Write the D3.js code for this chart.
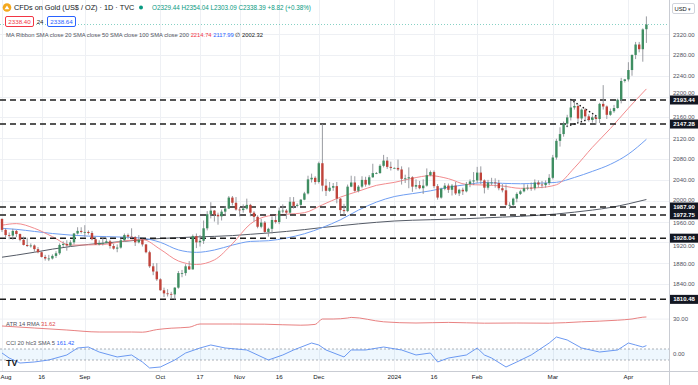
<!DOCTYPE html>
<html><head><meta charset="utf-8">
<script src="https://cdn.jsdelivr.net/npm/d3@7"></script>
<style>
html,body{margin:0;padding:0;background:#fff;}
svg{display:block;font-family:"Liberation Sans",Arial,sans-serif;}
</style></head><body>
<svg id="c" width="698" height="385"></svg>
<script>
// ---------- DATA ----------
const firstDay = "2023-08-01", lastDay = "2024-04-08";
const openP = [1965,1944,1934,1933,1942,1936,1925,1915,1913,1914,1907,1901,1892,1889,1889,1894,1899,1915,1917,1914,1920,1937,1942,
1940,1940,1938,1926,1916,1919,1919,1922,1913,1908,1910,1924,1934,1931,1930,1920,1925,1916,1901,1874,1864,
1849,1828,1822,1821,1820,1833,1861,1861,1874,1868,1932,1920,1923,1947,1974,1981,1973,1970,1979,1985,2006,1996,
1983,1982,1985,1992,1977,1969,1950,1958,1940,1946,1963,1959,1981,1981,1977,1998,1990,1992,2002,2014,2041,2044,
2036,2072,2029,2019,2025,2028,2004,1982,1980,2027,2035,2019,2027,2040,2031,2045,2053,2053,2067,2077,2065,
2063,2063,2060,2042,2043,2045,2027,2030,2024,2029,2049,2055,2028,2006,2023,2029,2021,2029,2014,2021,2018,2032,2037,
2039,2054,2039,2025,2035,2035,2034,2024,2020,1992,1992,2004,2013,2018,2024,2025,2024,2035,2031,2030,2034,
2044,2083,2115,2128,2148,2160,2179,2182,2158,2175,2162,2155,2160,2157,2186,2181,2165,2172,2178,2194,2230,
2233,2251,2280,2300,2291,2329.44];
const highP = [1966,1947,1939,1946,1944,1937,1931,1929,1918,1916,1911,1903,1896,1896,1897,1903,1918,1922,1924,1924,1938,1949,1949,
1953,1943,1942,1930,1924,1929,1929,1925,1917,1916,1928,1937,1937,1947,1932,1934,1927,1917,1904,1880,1880,
1851,1833,1830,1825,1834,1865,1867,1878,1884,1935,1937,1934,1962,1980,1997,1982,1977,1983,1990,2009,2009,2007,
1988,1993,2004,1994,1980,1972,1965,1961,1948,1970,1972,1987,1993,1984,2007,2007,1995,2003,2017,2048,2052,2047,
2075,2147,2042,2036,2034,2036,2005,1994,2031,2048,2047,2030,2047,2046,2049,2071,2055,2070,2088,2084,2075,
2064,2079,2066,2050,2064,2047,2041,2038,2041,2062,2058,2058,2032,2025,2034,2033,2032,2036,2023,2025,2036,2041,2055,
2065,2066,2041,2040,2044,2043,2040,2032,2031,1997,2006,2016,2021,2032,2031,2035,2041,2039,2038,2039,2051,
2088,2119,2141,2152,2165,2194,2189,2185,2177,2178,2166,2164,2163,2188,2222,2183,2177,2184,2196,2236,2234,
2266,2281,2305,2305,2331,2354.04];
const lowP = [1940,1929,1926,1925,1930,1922,1914,1911,1910,1902,1899,1891,1885,1884,1887,1890,1896,1911,1904,1913,1916,1935,1937,
1931,1935,1924,1915,1914,1914,1918,1908,1906,1901,1908,1922,1926,1928,1913,1918,1912,1899,1871,1857,1846,
1827,1815,1816,1813,1810,1831,1853,1856,1867,1868,1909,1912,1917,1943,1966,1960,1954,1962,1971,1984,1991,1981,
1970,1977,1983,1970,1960,1947,1947,1936,1931,1937,1956,1955,1976,1965,1975,1985,1987,1990,2001,2012,2035,2031,
2033,2018,2009,2017,2019,1995,1975,1973,1978,2026,2017,2016,2024,2027,2029,2044,2051,2052,2064,2061,2058,
2062,2057,2031,2034,2024,2017,2022,2022,2013,2027,2047,2024,2002,2004,2020,2015,2010,2011,2009,2011,2016,2026,2030,
2034,2032,2014,2021,2030,2025,2020,2016,1990,1984,1989,1997,2011,2016,2020,2019,2020,2025,2024,2025,2030,
2041,2079,2104,2123,2141,2154,2175,2150,2154,2155,2152,2150,2146,2149,2175,2157,2163,2169,2177,2187,2227,
2229,2240,2272,2285,2267,2303.09];
const closeP = [1944,1934,1933,1942,1936,1925,1915,1913,1914,1907,1901,1892,1889,1889,1894,1899,1915,1917,1914,1920,1937,1942,1940,
1940,1938,1926,1916,1919,1919,1922,1913,1908,1910,1924,1934,1931,1930,1920,1925,1916,1901,1874,1864,1849,
1828,1822,1821,1820,1833,1861,1861,1874,1868,1932,1920,1923,1947,1974,1981,1973,1970,1979,1985,2006,1996,1983,
1982,1985,1992,1977,1969,1950,1958,1940,1946,1963,1959,1981,1981,1977,1998,1990,1992,2002,2014,2041,2044,2036,
2072,2029,2019,2025,2028,2004,1982,1980,2027,2035,2019,2027,2040,2031,2045,2053,2053,2067,2077,2065,2063,
2063,2060,2042,2043,2045,2027,2030,2024,2029,2049,2055,2028,2006,2023,2029,2021,2029,2014,2021,2018,2032,2037,2039,
2054,2039,2025,2035,2035,2034,2024,2020,1992,1992,2004,2013,2018,2024,2025,2024,2035,2031,2030,2034,2044,
2083,2115,2128,2148,2160,2179,2182,2158,2175,2162,2155,2160,2157,2186,2181,2165,2172,2178,2194,2230,2233,
2251,2280,2300,2291,2329,2338.39];

const maDates = ["2023-08-01","2023-08-07","2023-08-14","2023-08-21","2023-08-28","2023-09-04","2023-09-11","2023-09-18","2023-09-25",
"2023-10-02","2023-10-09","2023-10-16","2023-10-23","2023-10-30","2023-11-06","2023-11-13","2023-11-20","2023-11-27",
"2023-12-04","2023-12-11","2023-12-18","2023-12-25","2024-01-01","2024-01-08","2024-01-15","2024-01-22","2024-01-29",
"2024-02-05","2024-02-12","2024-02-19","2024-02-26","2024-03-04","2024-03-11","2024-03-18","2024-03-25","2024-04-01","2024-04-08"];
const sma20 = [1953,1956,1947,1931,1914.7,1915.1,1916.5,1922.7,1925.5,1906.5,1884.2,1877.5,1886.3,1917.3,1955.4,1970.8,1974.0,1977.0,
1992.1,2006.9,2018.2,2029.5,2035.2,2043.1,2048.1,2042.3,2031.3,2030.1,2028.2,2023.8,2025.0,2030.6,2063.1,2102.6,2138.7,2177.7,2214.74];
const sma50 = [1947,1945,1941,1937,1934,1932,1931,1930,1928,1920,1905.5,1900.8,1905.3,1914.7,1921.8,1923.1,1928.3,1936.5,
1948.5,1963.3,1981.9,1997.3,2008.0,2013.6,2019.0,2025.9,2030.9,2034.9,2033.4,2032.6,2033.6,2035.3,2044.6,2056.4,2069.9,2089.5,2117.99];
const sma200 = [1891.5,1895.5,1901,1907,1912,1916,1919,1922,1925,1927.5,1929,1930.5,1931.5,1933,1935.5,1938,1941,1944.5,
1948.5,1952,1955.5,1958.5,1961,1962.5,1963.5,1964.5,1965.5,1967,1968.5,1970,1972,1974.5,1978,1982,1987,1994,2002.32];

const atrDates = ["2023-08-01","2023-08-14","2023-08-25","2023-09-07","2023-09-20","2023-09-25","2023-09-29","2023-10-05","2023-10-12",
"2023-10-17","2023-10-30","2023-11-10","2023-11-24","2023-11-30","2023-12-04","2023-12-07","2023-12-13","2023-12-14","2023-12-27",
"2024-01-09","2024-01-22","2024-02-05","2024-02-16","2024-02-29","2024-03-13","2024-03-27","2024-04-02","2024-04-05","2024-04-08"];
const atrValues = [22.6,20.6,18.6,16.6,16.6,16.4,19.0,20.4,21.4,24.6,24.6,24.4,23.4,24.2,29.6,29.6,30.6,31.2,26.8,25.6,26.2,25.4,25.6,25.4,26.8,28.4,29.6,31.4,31.62];

const cciDates = ["2023-08-01","2023-08-03","2023-08-08","2023-08-14","2023-08-18","2023-08-25","2023-08-30","2023-09-04","2023-09-07",
"2023-09-14","2023-09-20","2023-09-25","2023-09-27","2023-10-02","2023-10-06","2023-10-11","2023-10-17","2023-10-20","2023-10-26",
"2023-11-03","2023-11-13","2023-11-17","2023-11-22","2023-11-29","2023-12-01","2023-12-05","2023-12-12","2023-12-14","2023-12-20",
"2023-12-27","2024-01-03","2024-01-09","2024-01-15","2024-01-17","2024-01-22","2024-01-29","2024-02-01","2024-02-05","2024-02-07",
"2024-02-13","2024-02-16","2024-02-22","2024-02-29","2024-03-04","2024-03-07","2024-03-13","2024-03-20","2024-03-27","2024-04-01",
"2024-04-03","2024-04-05","2024-04-08"];
const cciValues = [27,-64,-155,-136,-100,-9,118,136,45,-45,-9,-136,-245,-227,-100,27,118,173,118,82,-100,-9,82,209,173,82,-45,82,82,
136,82,-9,27,-136,-64,-9,118,-9,-64,-227,-136,-9,209,318,264,118,45,82,209,173,136,161.42];

const levels = [2193.44, 2147.28, 1987.90, 1972.75, 1928.04, 1810.48];
const priceTicks = [1840,1880,1920,1960,2000,2040,2080,2120,2160,2200,2240,2280,2320];
const timeTickDates = ["2023-08-01","2023-08-16","2023-09-01","2023-10-02","2023-10-17","2023-11-01","2023-11-16","2023-12-01",
"2024-01-01","2024-01-16","2024-02-01","2024-03-01","2024-04-01"];
const timeTickLabels = ["Aug","16","Sep","Oct","17","Nov","16","Dec","2024","16","Feb","Mar","Apr"];
const pennantUpper = [["2024-03-08",2194],["2024-03-19",2163]];
const pennantLower = [["2024-03-07",2143],["2024-03-19",2161]];

// ---------- SCALES ----------
const parse = d3.utcParse("%Y-%m-%d"), fmt = d3.utcFormat("%Y-%m-%d");
const days = d3.utcDays(parse(firstDay), d3.utcDay.offset(parse(lastDay), 1))
  .filter(d => d.getUTCDay() % 6 !== 0).map(fmt);
const bars = days.map((d, i) => ({d, o: openP[i], h: highP[i], l: lowP[i], c: closeP[i]}));

const plotRight = 669;
const x = d3.scaleBand().domain(days).range([0.2, 0.2 + 3.6 * days.length]).padding(0);
const cx = d => x(d) + x.bandwidth() / 2;
const y = d3.scaleLinear().domain([1800, 2380]).range([304.83, 2.88]);
const yAtr = d3.scaleLinear().domain([12, 43]).range([336.6, 305.6]);
const yCci = d3.scaleLinear().domain([-300, 350]).range([371, 335.25]);

const svg = d3.select("#c");
svg.append("rect").attr("width", 698).attr("height", 385).attr("fill", "#fff");

// grid
const grid = svg.append("g");
grid.selectAll("line.h").data(priceTicks).join("line")
  .attr("x1", 0).attr("x2", plotRight).attr("y1", d => Math.round(y(d)) + 0.5).attr("y2", d => Math.round(y(d)) + 0.5)
  .attr("stroke", "#eef0f4");
grid.selectAll("line.v").data(timeTickDates).join("line")
  .attr("x1", d => Math.round(cx(d)) + 0.5).attr("x2", d => Math.round(cx(d)) + 0.5).attr("y1", 0).attr("y2", 371)
  .attr("stroke", "#eef0f4");
grid.append("line").attr("x1", 0).attr("x2", plotRight).attr("y1", yAtr(30) + 0.5).attr("y2", yAtr(30) + 0.5).attr("stroke", "#eef0f4");

// pane separators & axis borders
svg.append("line").attr("x1", plotRight + 0.5).attr("x2", plotRight + 0.5).attr("y1", 0).attr("y2", 385).attr("stroke", "#c9ccd3");
svg.append("line").attr("x1", 0).attr("x2", 698).attr("y1", 371.5).attr("y2", 371.5).attr("stroke", "#c9ccd3");

// last-price dotted line
svg.append("line").attr("x1", 0).attr("x2", plotRight).attr("y1", y(closeP[closeP.length - 1])).attr("y2", y(closeP[closeP.length - 1]))
  .attr("stroke", "#22ab94").attr("stroke-width", 0.8).attr("stroke-dasharray", "1,2").attr("opacity", 0.7);

// MA lines
const maLine = vals => d3.line().x((d, i) => cx(maDates[i])).y(d => y(d)).curve(d3.curveMonotoneX)(vals);
svg.append("path").attr("d", maLine(sma200)).attr("fill", "none").attr("stroke", "#555b66").attr("stroke-width", 1);
svg.append("path").attr("d", maLine(sma50)).attr("fill", "none").attr("stroke", "#6f9ef2").attr("stroke-width", 1);
svg.append("path").attr("d", maLine(sma20)).attr("fill", "none").attr("stroke", "#f28b8e").attr("stroke-width", 1);

// level lines
svg.selectAll("line.lv").data(levels).join("line")
  .attr("x1", 0).attr("x2", plotRight).attr("y1", d => y(d)).attr("y2", d => y(d))
  .attr("stroke", "#1e1e1e").attr("stroke-width", 1.5).attr("stroke-dasharray", "6,4");

// pennant dotted lines
[pennantUpper, pennantLower].forEach(p => {
  svg.append("path").attr("d", d3.line().x(d => cx(d[0])).y(d => y(d[1]))(p))
    .attr("stroke", "#1e1e1e").attr("stroke-width", 1.6).attr("stroke-dasharray", "0.1,3.6").attr("stroke-linecap", "round").attr("fill", "none");
});

// candles
const up = "#3f8e62", down = "#c0433a";
const cg = svg.append("g");
cg.selectAll("line").data(bars).join("line")
  .attr("x1", d => cx(d.d)).attr("x2", d => cx(d.d)).attr("y1", d => y(d.h)).attr("y2", d => y(d.l))
  .attr("stroke", "#8d9096").attr("stroke-width", 0.9);
cg.selectAll("rect").data(bars).join("rect")
  .attr("x", d => cx(d.d) - 1.2).attr("width", 2.4)
  .attr("y", d => y(Math.max(d.o, d.c))).attr("height", d => Math.max(0.8, Math.abs(y(d.o) - y(d.c))))
  .attr("fill", d => d.c >= d.o ? up : down);

// ATR
svg.append("path").attr("d", d3.line().x((d, i) => cx(atrDates[i])).y(d => yAtr(d)).curve(d3.curveMonotoneX)(atrValues))
  .attr("fill", "none").attr("stroke", "#e57373").attr("stroke-width", 0.9);

// CCI band
svg.append("rect").attr("x", 0).attr("width", plotRight).attr("y", yCci(100)).attr("height", yCci(-100) - yCci(100)).attr("fill", "#2196f3").attr("opacity", 0.08);
[100, -100].forEach(v => svg.append("line").attr("x1", 0).attr("x2", plotRight).attr("y1", yCci(v)).attr("y2", yCci(v))
  .attr("stroke", "#8a8f99").attr("stroke-dasharray", "2,2").attr("stroke-width", 0.7));
svg.append("path").attr("d", d3.line().x((d, i) => cx(cciDates[i])).y(d => yCci(d))(cciValues))
  .attr("fill", "none").attr("stroke", "#5b8def").attr("stroke-width", 0.9);

// price axis (a tick label hidden behind a level box is lifted just clear of it)
const ax = svg.append("g").attr("transform", `translate(${plotRight},0)`)
  .call(d3.axisRight(y).tickValues(priceTicks).tickFormat(d3.format(".2f")).tickSize(0).tickPadding(4));
ax.select(".domain").remove();
ax.selectAll("text").attr("font-size", 6).attr("fill", "#50535e").attr("font-family", "Liberation Sans, Arial");
ax.selectAll(".tick").each(function(d) {
  const ty = y(d);
  levels.forEach(lv => {
    const ly = y(lv);
    if (Math.abs(ty - ly) < 7.6) d3.select(this).select("text").attr("y", (ty < ly ? ly - 7.8 : ly + 7.8) - ty);
  });
});

// lower-pane axis labels
svg.append("text").attr("x", 673).attr("y", yAtr(30)).attr("dy", "0.32em").attr("font-size", 6).attr("fill", "#50535e").text("30.00");
svg.append("text").attr("x", 673).attr("y", yCci(0)).attr("dy", "0.32em").attr("font-size", 6).attr("fill", "#50535e").text("0.00");

// level labels
const lg = svg.selectAll("g.lvl").data(levels).join("g").attr("transform", d => `translate(670,${y(d)})`);
lg.append("rect").attr("x", 0).attr("y", -4.5).attr("width", 28).attr("height", 9).attr("fill", "#131722");
lg.append("text").attr("x", 14).attr("dy", "0.34em").attr("text-anchor", "middle").attr("font-size", 6).attr("fill", "#fff")
  .attr("font-weight", "bold").text(d => d3.format(".2f")(d));

// USD box
svg.append("rect").attr("x", 672.5).attr("y", 3.5).attr("width", 22).attr("height", 10).attr("fill", "#fff").attr("stroke", "#d1d4dc").attr("rx", 1.5);
svg.append("text").attr("x", 674.5).attr("y", 10.8).attr("font-size", 5.8).attr("fill", "#131722").text("USD");
svg.append("text").attr("x", 688).attr("y", 10.5).attr("font-size", 5).attr("fill", "#50535e").text("▾");

// time axis
const tx = svg.append("g").attr("transform", "translate(0,372)")
  .call(d3.axisBottom(x).tickValues(timeTickDates).tickFormat((d, i) => timeTickLabels[i]).tickSize(0).tickPadding(3));
tx.select(".domain").remove();
tx.selectAll("text").attr("font-size", 6.2).attr("fill", "#131722").attr("font-family", "Liberation Sans, Arial");
// first label sits at the very left edge: anchor it at its start so it stays readable
tx.selectAll("text").filter((d, i) => i === 0).attr("text-anchor", "start").attr("x", 0.5 - x.bandwidth() / 2 - x(timeTickDates[0]));

// ---------- HEADER / LEGENDS ----------
svg.append("circle").attr("cx", 7).attr("cy", 7.5).attr("r", 4.3).attr("fill", "#f4a81d");
svg.append("path").attr("d", "M4.6,9.3 L7,5.4 L9.4,9.3 Z").attr("fill", "#fff");
svg.append("text").attr("x", 14).attr("y", 10).attr("font-size", 7.3).attr("fill", "#131722").text("CFDs on Gold (US$ / OZ) · 1D · TVC");
svg.append("circle").attr("cx", 141).attr("cy", 7.5).attr("r", 2).attr("fill", "#089981");
svg.append("text").attr("x", 152).attr("y", 10).attr("font-size", 6.3).attr("fill", "#089981")
  .text("O2329.44 H2354.04 L2303.09 C2338.39 +8.82 (+0.38%)");

svg.append("rect").attr("x", 5.5).attr("y", 16.5).attr("width", 28).attr("height", 10).attr("fill", "#fff").attr("stroke", "#f23645").attr("rx", 1.5);
svg.append("text").attr("x", 19.5).attr("y", 23.6).attr("text-anchor", "middle").attr("font-size", 6.2).attr("fill", "#f23645").text("2338.40");
svg.append("text").attr("x", 40).attr("y", 23.6).attr("text-anchor", "middle").attr("font-size", 6).attr("fill", "#131722").text("24");
svg.append("rect").attr("x", 47.5).attr("y", 16.5).attr("width", 28).attr("height", 10).attr("fill", "#fff").attr("stroke", "#2962ff").attr("rx", 1.5);
svg.append("text").attr("x", 61.5).attr("y", 23.6).attr("text-anchor", "middle").attr("font-size", 6.2).attr("fill", "#2962ff").text("2338.64");

const ma = svg.append("text").attr("x", 6).attr("y", 36.5).attr("font-size", 5.8).attr("fill", "#50535e");
ma.append("tspan").text("MA Ribbon SMA close 20 SMA close 50 SMA close 100 SMA close 200 ");
ma.append("tspan").attr("fill", "#f23645").text(" 2214.74 ");
ma.append("tspan").attr("fill", "#2962ff").text(" 2117.99 ");
ma.append("tspan").attr("fill", "#131722").text(" ∅ ");
ma.append("tspan").attr("fill", "#131722").text(" 2002.32");

const atrL = svg.append("text").attr("x", 6).attr("y", 325.5).attr("font-size", 5.8).attr("fill", "#50535e");
atrL.append("tspan").text("ATR 14 RMA ");
atrL.append("tspan").attr("fill", "#e04848").text(" 31.62");
const cciL = svg.append("text").attr("x", 6).attr("y", 344.5).attr("font-size", 5.8).attr("fill", "#50535e");
cciL.append("tspan").text("CCI 20 hlc3 SMA 5 ");
cciL.append("tspan").attr("fill", "#2962ff").text(" 161.42");

// TradingView mark
svg.append("text").attr("x", 6).attr("y", 366).attr("font-size", 9).attr("font-weight", "bold").attr("fill", "#131722").text("TV");
</script>
</body></html>
